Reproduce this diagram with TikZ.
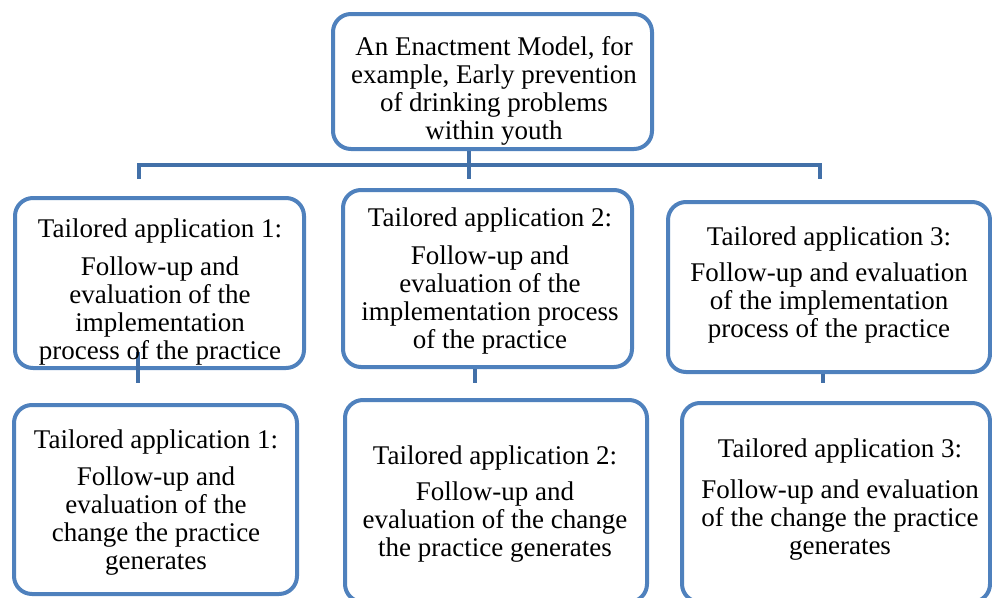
\documentclass[tikz,border=0pt]{standalone}
\usepackage{fontspec}
\setmainfont{Liberation Serif}
\definecolor{boxblue}{RGB}{79,129,189}
\definecolor{connblue}{RGB}{66,112,168}
\begin{document}
\begin{tikzpicture}[x=1pt,y=-1pt,
  box/.style={draw=boxblue,line width=4pt,rounded corners=18pt,fill=white,inner sep=0pt},
  conn/.style={draw=connblue,line width=3.5pt},
  txt/.style={align=center,inner sep=0pt,font=\fontsize{27}{28}\selectfont}]
\useasboundingbox (0,0) rectangle (992,597);
% boxes
\node[box,minimum width=319pt,minimum height=135pt] (top) at (492.5,81.5) {};
\node[box,minimum width=289pt,minimum height=170pt] (m1) at (159.5,283) {};
\node[box,minimum width=289pt,minimum height=177pt] (m2) at (487.5,278.5) {};
\node[box,minimum width=322pt,minimum height=170pt] (m3) at (829,287) {};
\node[box,minimum width=283pt,minimum height=189pt] (b1) at (155.5,499.5) {};
\node[box,minimum width=302pt,minimum height=202pt] (b2) at (496,501) {};
\node[box,minimum width=308pt,minimum height=199pt] (b3) at (836,502.5) {};
% connectors
\coordinate (fork) at (469,165);
\coordinate (d1) at (139,179);
\coordinate (d2) at (469,179);
\coordinate (d3) at (820,179);
\draw[conn] (top.south -| fork) -- (d2);
\draw[conn] (d1) |- (fork) -| (d3);
\coordinate (s1a) at (138,352);
\coordinate (s1) at (138,383);
\coordinate (s2) at (475,383);
\coordinate (s3) at (823,383);
\draw[conn] (s1a) -- (s1);
\draw[conn] (m2.south -| s2) -- (s2);
\draw[conn] (m3.south -| s3) -- (s3);
% texts
\node[txt] (ttop) at (494,91) {An Enactment Model, for\\example, Early prevention\\of drinking problems\\within youth};
\node[txt] (tm1) at (160,292) {Tailored application 1:\\[10pt]Follow-up and\\evaluation of the\\implementation\\process of the practice};
\node[txt] (tm2) at (490,281) {Tailored application 2:\\[10pt]Follow-up and\\evaluation of the\\implementation process\\of the practice};
\node[txt] (tm3) at (829,285) {Tailored application 3:\\[8pt]Follow-up and evaluation\\of the implementation\\process of the practice};
\node[txt] (tb1) at (156,503) {Tailored application 1:\\[9pt]Follow-up and\\evaluation of the\\change the practice\\generates};
\node[txt] (tb2) at (495,504) {Tailored application 2:\\[8pt]Follow-up and\\evaluation of the change\\the practice generates};
\node[txt] (tb3) at (840,500) {Tailored application 3:\\[13pt]Follow-up and evaluation\\of the change the practice\\generates};
\end{tikzpicture}
\end{document}
